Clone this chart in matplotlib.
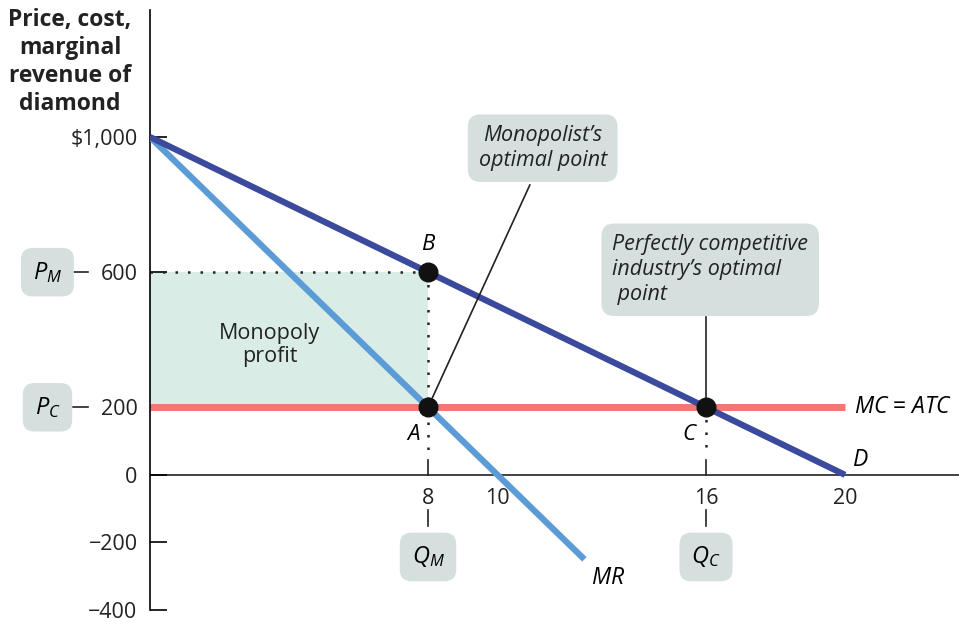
import matplotlib
matplotlib.use("Agg")
import matplotlib.pyplot as plt
import numpy as np

plt.rcParams['font.family'] = ['Open Sans', 'DejaVu Sans']
plt.rcParams['mathtext.fontset'] = 'custom'
plt.rcParams['mathtext.it'] = 'Open Sans:italic'
plt.rcParams['mathtext.rm'] = 'Open Sans'

# demand, marginal revenue and marginal cost
q_demand = [0, 20]
p_demand = [1000, 0]
q_mr = [0, 12.5]
p_mr = [1000, -250]
q_mc = [0, 20]
p_mc = [200, 200]

# key points
q_monopoly, p_monopoly = 8, 600
q_comp, p_comp = 16, 200
mc_level = 200

yticks = [-400, -200, 0, 200, 600, 1000]
ytick_labels = ['\u2212400', '\u2212200', '0', '200', '600', '$1,000']
xticks = [8, 10, 16, 20]

dark_blue = '#3b4a9c'
light_blue = '#5b9bd6'
red = '#f07772'
shade = '#d9ede6'
box_fc = '#d5dfdd'

fig = plt.figure(figsize=(9.59, 6.24), dpi=100)
ax = fig.add_axes([150 / 959, 14 / 624, 809 / 959, 600 / 624])
ax.set_xlim(0, 23.28)
ax.set_ylim(-400, 1376)

for s in ['top', 'right', 'bottom']:
    ax.spines[s].set_visible(False)
ax.spines['left'].set_linewidth(1.2)
ax.axhline(0, color='#222222', lw=1.2, zorder=1)

ax.set_yticks(yticks)
ax.set_yticklabels(ytick_labels, fontsize=15.5, color='#222222')
ax.tick_params(axis='y', direction='in', length=12, width=1.2, pad=9)
ax.set_xticks([])
for q in xticks:
    ax.text(q, -38, str(q), ha='center', va='top', fontsize=15.5, color='#222222')

# monopoly profit area
ax.fill_between([0, q_monopoly], mc_level, p_monopoly, color=shade, lw=0, zorder=0)
ax.text(3.45, 385, 'Monopoly\nprofit', ha='center', va='center', fontsize=15.5,
        color='#222222', linespacing=1.15)

# curves
ax.plot(q_mc, p_mc, color=red, lw=5, solid_capstyle='butt', zorder=2)
ax.plot(q_mr, p_mr, color=light_blue, lw=4.5, solid_capstyle='butt', zorder=3)
ax.plot(q_demand, p_demand, color=dark_blue, lw=4.5, solid_capstyle='butt', zorder=3)

# dotted guides
ax.plot([0, q_monopoly], [p_monopoly, p_monopoly], ls=(0, (1, 4)), color='#222222', lw=1.8)
ax.plot([q_monopoly, q_monopoly], [p_monopoly, 60], ls=(0, (1, 4)), color='#222222', lw=1.8)
ax.plot([q_comp, q_comp], [p_comp, 60], ls=(0, (1, 4)), color='#222222', lw=1.8)
for q in [q_monopoly, q_comp]:
    ax.plot([q, q], [0, 45], color='#222222', lw=1.2)
    ax.plot([q, q], [-105, -150], color='#222222', lw=1.2, clip_on=False)

# points
ax.scatter([q_monopoly, q_monopoly, q_comp], [p_monopoly, mc_level, p_comp],
           s=180, color='#111111', zorder=5)
ax.text(q_monopoly, 650, 'B', ha='center', va='bottom', fontsize=16, style='italic')
ax.text(q_monopoly - 0.25, 150, 'A', ha='right', va='top', fontsize=16, style='italic')
ax.text(q_comp - 0.3, 150, 'C', ha='right', va='top', fontsize=16, style='italic')

# curve labels
ax.text(20.25, 200, '$MC$ = $ATC$', ha='left', va='center', fontsize=16.5)
ax.text(20.2, 45, '$D$', ha='left', va='center', fontsize=16.5)
ax.text(12.7, -305, '$MR$', ha='left', va='center', fontsize=16.5)

# callouts
box = dict(boxstyle='round,pad=0.5,rounding_size=0.6', fc=box_fc, ec='none')
ax.plot([q_monopoly, 10.93], [mc_level, 858], color='#222222', lw=1.2, zorder=4)
ax.text(11.3, 967, 'Monopolist\u2019s\noptimal point', ha='center', va='center',
        fontsize=15.5, style='italic', bbox=box, linespacing=1.25, color='#222222')
ax.plot([q_comp, q_comp], [p_comp, 466], color='#222222', lw=1.2, zorder=4)
ax.text(13.3, 607, 'Perfectly competitive\nindustry\u2019s optimal\n point', ha='left',
        va='center', fontsize=15.5, style='italic', bbox=box, linespacing=1.25,
        color='#222222')

# price / quantity tags
small_box = dict(boxstyle='round,pad=0.5,rounding_size=0.5', fc=box_fc, ec='none')
for y, lab in [(p_monopoly, '$P_M$'), (mc_level, '$P_C$')]:
    ax.text(-2.95, y, lab, ha='center', va='center', fontsize=17, bbox=small_box,
            clip_on=False)
    ax.plot([-2.22, -1.78], [y, y], color='#222222', lw=1.2, clip_on=False)
for q, lab in [(q_monopoly, '$Q_M$'), (q_comp, '$Q_C$')]:
    ax.text(q, -243, lab, ha='center', va='center', fontsize=17, bbox=small_box,
            clip_on=False)

fig.text(70 / 959, 1 - 8 / 624, 'Price, cost,\nmarginal\nrevenue of\ndiamond',
         ha='center', va='top', fontsize=16.5, fontweight='bold', linespacing=1.22,
         color='#222222')

fig.savefig('out.png', dpi=100)
